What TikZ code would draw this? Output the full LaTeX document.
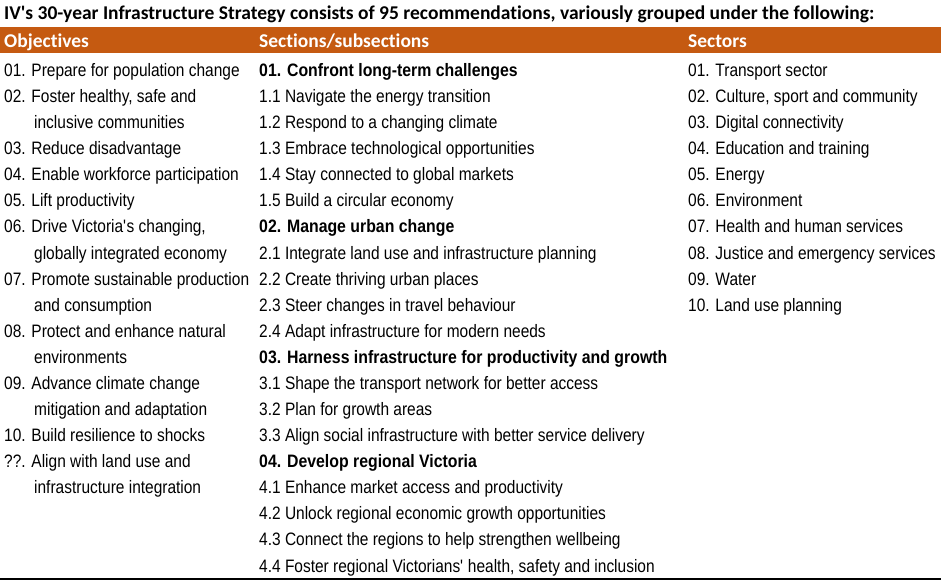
\documentclass[tikz,border=0pt]{standalone}
\usepackage{fontspec}
\usepackage{xcolor}
\usepackage{tikz}
\usetikzlibrary{calc}
\setmainfont{Liberation Sans}[FakeStretch=0.86,BoldFeatures={FakeStretch=0.88}]
\newfontfamily\calibri{Carlito}[Ligatures=NoCommon]
\definecolor{barorange}{HTML}{C55A11}
\newcommand\bodyfont{\fontsize{18}{20}\selectfont}
\newcommand\titlefont{\calibri\bfseries\fontsize{19.5}{22}\selectfont}
\newcommand\q{\textquotesingle}

\begin{document}
\begin{tikzpicture}[x=1pt,y=-1pt,line cap=butt,
  cell/.style={anchor=base west,inner sep=0pt,font=\bodyfont},
  bcell/.style={cell,font=\bodyfont\bfseries},
  head/.style={anchor=base west,inner sep=0pt,font=\titlefont,text=white}]
\useasboundingbox (0,0) rectangle (941,581);
% title and header bar
\node [anchor=base west,inner sep=0pt,font=\titlefont] (title) at (4,19) {IV\q s 30-year Infrastructure Strategy consists of 95 recommendations, variously grouped under the following:};
\fill [barorange] (0,27) rectangle (941,53);
\node [head] (hobj) at (4,47) {Objectives};
\node [head] (hsec) at (259,47) {Sections/subsections};
\node [head] (hsct) at (688,47) {Sectors};
% objectives
\foreach \r/\x/\t in {0/4/{01. Prepare for population change},
  1/4/{02. Foster healthy, safe and},2/34/{inclusive communities},
  3/4/{03. Reduce disadvantage},4/4/{04. Enable workforce participation},
  5/4/{05. Lift productivity},
  6/4/{06. Drive Victoria\q s changing,},7/34/{globally integrated economy},
  8/4/{07. Promote sustainable production},9/34/{and consumption},
  10/4/{08. Protect and enhance natural},11/34/{environments},
  12/4/{09. Advance climate change},13/34/{mitigation and adaptation},
  14/4/{10. Build resilience to shocks},
  15/4/{??. Align with land use and},16/34/{infrastructure integration}}
  \node [cell] (obj\r) at (\x,76.5+26.08*\r) {\t};
% sections/subsections
\foreach \r/\s/\t in {0/bcell/{01. Confront long-term challenges},
  1/cell/{1.1 Navigate the energy transition},
  2/cell/{1.2 Respond to a changing climate},
  3/cell/{1.3 Embrace technological opportunities},
  4/cell/{1.4 Stay connected to global markets},
  5/cell/{1.5 Build a circular economy},
  6/bcell/{02. Manage urban change},
  7/cell/{2.1 Integrate land use and infrastructure planning},
  8/cell/{2.2 Create thriving urban places},
  9/cell/{2.3 Steer changes in travel behaviour},
  10/cell/{2.4 Adapt infrastructure for modern needs},
  11/bcell/{03. Harness infrastructure for productivity and growth},
  12/cell/{3.1 Shape the transport network for better access},
  13/cell/{3.2 Plan for growth areas},
  14/cell/{3.3 Align social infrastructure with better service delivery},
  15/bcell/{04. Develop regional Victoria},
  16/cell/{4.1 Enhance market access and productivity},
  17/cell/{4.2 Unlock regional economic growth opportunities},
  18/cell/{4.3 Connect the regions to help strengthen wellbeing},
  19/cell/{4.4 Foster regional Victorians\q\ health, safety and inclusion}}
  \node [\s] (sec\r) at (259,76.5+26.08*\r) {\t};
% sectors
\foreach \r/\t in {0/{01. Transport sector},1/{02. Culture, sport and community},
  2/{03. Digital connectivity},3/{04. Education and training},
  4/{05. Energy},5/{06. Environment},6/{07. Health and human services},
  7/{08. Justice and emergency services},8/{09. Water},9/{10. Land use planning}}
  \node [cell] (sct\r) at (688,76.5+26.08*\r) {\t};
% bottom rule
\draw [line width=2pt] (0,578.5) -- (941,578.5);
\end{tikzpicture}
\end{document}
